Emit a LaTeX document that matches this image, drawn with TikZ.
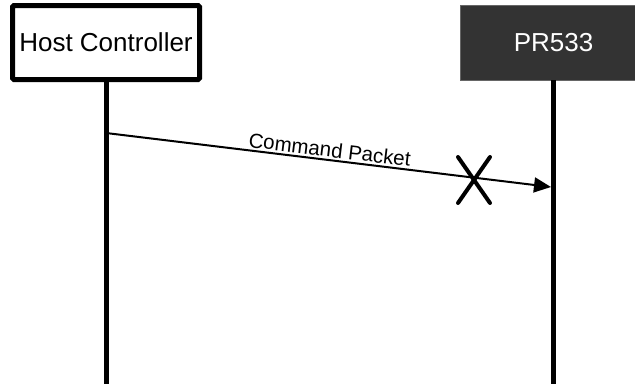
\documentclass[tikz,border=0pt]{standalone}
\usepackage{fontspec}
\setmainfont{Liberation Sans}
\usetikzlibrary{arrows.meta}
\definecolor{darkbox}{HTML}{333333}
\begin{document}
\begin{tikzpicture}[x=1pt,y=-1pt,
  hostbox/.style={draw=black,line width=5pt,rounded corners=1.5pt,fill=white,minimum width=187pt,minimum height=74pt,inner sep=0pt,font=\fontsize{26}{26}\selectfont},
  devbox/.style={draw=black!60,line width=0.6pt,fill=darkbox,text=white,minimum width=186pt,minimum height=75pt,inner sep=0pt,font=\fontsize{26}{26}\selectfont},
  lifeline/.style={line width=5pt},
  msg/.style={line width=2pt,-{Triangle[length=17pt,width=15pt]}},
  lost/.style={line width=4pt,line cap=round}]
\useasboundingbox (0,0) rectangle (635,384);
\node[hostbox] (host) at (106,42.5) {Host Controller};
\node[devbox] (pr) at (553.5,42.5) {PR533};
\coordinate (hostend) at (106,384);
\coordinate (prend) at (553.5,384);
\draw[lifeline] (host.south) -- (hostend);
\draw[lifeline] (pr.south) -- (prend);
\coordinate (msgstart) at (106,133);
\coordinate (msgend) at (551,187);
\draw[msg] (msgstart) -- node[sloped,above,pos=0.5,inner sep=2pt,font=\fontsize{20.5}{20.5}\selectfont] (lbl) {Command Packet} (msgend);
\coordinate (xa) at (458,157);
\coordinate (xb) at (490,203);
\coordinate (xc) at (490,157);
\coordinate (xd) at (458,203);
\draw[lost] (xa) -- (xb);
\draw[lost] (xc) -- (xd);
\end{tikzpicture}
\end{document}
